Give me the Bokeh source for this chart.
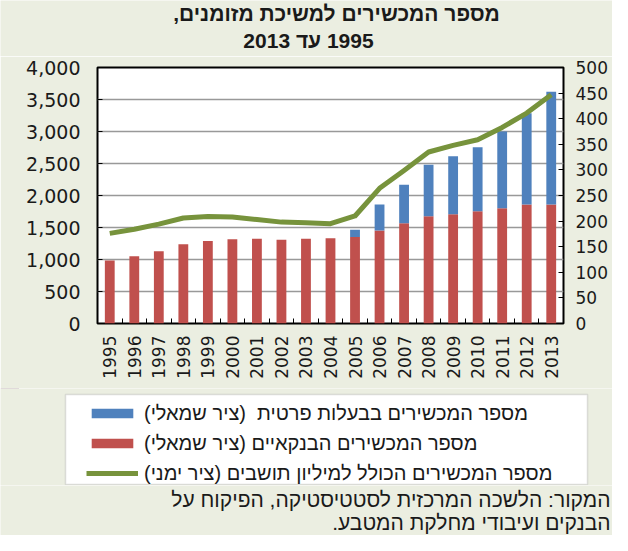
from bokeh.plotting import figure
from bokeh.layouts import column, row
from bokeh.models import (Label, Legend, LegendItem, Range1d, LinearAxis, FixedTicker, BoxAnnotation,
                          SingleIntervalTicker, NumeralTickFormatter, ColumnDataSource)
from bokeh.embed import file_html
from bokeh.resources import INLINE
import math

years = [1995, 1996, 1997, 1998, 1999, 2000, 2001, 2002, 2003, 2004,
         2005, 2006, 2007, 2008, 2009, 2010, 2011, 2012, 2013]
banks = [985, 1050, 1130, 1240, 1290, 1318, 1323, 1307, 1323, 1333,
         1350, 1453, 1568, 1677, 1708, 1755, 1802, 1859, 1859]
private = [0, 0, 0, 0, 0, 0, 0, 0, 0, 0,
           114, 406, 599, 802, 907, 1000, 1198, 1427, 1761]
per_million = [176, 184, 194, 206, 209, 208, 203, 198, 197, 195,
               210, 264, 299, 335, 348, 359, 383, 411, 447]

RLM = "\u200f"
title_lines = ["מספר המכשירים למשיכת מזומנים,", "1995 עד 2013"]
legend_labels = ["מספר המכשירים בבעלות פרטית  (ציר שמאלי)",
                 "מספר המכשירים הבנקאיים (ציר שמאלי)",
                 "מספר המכשירים הכולל למיליון תושבים (ציר ימני)"]
source_lines = ["המקור: הלשכה המרכזית לסטטיסטיקה, הפיקוח על",
                "הבנקים ועיבודי מחלקת המטבע."]

BG = "#ebeee1"
RED = "#c0504d"
BLUE = "#4f81bd"
GREEN = "#77933c"
TICK_FONT = "DejaVu Sans"
HEB_FONT = "Liberation Sans"
W = 612


def rtl(s):
    return RLM + s + RLM


def blank_fig(h):
    f = figure(width=W, height=h, output_backend="svg", toolbar_location=None,
               x_range=Range1d(0, W), y_range=Range1d(0, h),
               min_border=0, min_border_left=0, min_border_right=0,
               min_border_top=0, min_border_bottom=0,
               background_fill_color=BG, border_fill_color=BG,
               outline_line_color=None)
    f.axis.visible = False
    f.grid.visible = False
    return f


idx = list(range(len(years)))
tops = [b + q for b, q in zip(banks, private)]
src = ColumnDataSource(dict(x=idx, banks=banks, tops=tops, line=per_million))

# ---------- title ----------
head = blank_fig(56)
for t, x, y in zip(title_lines, [336, 308], [43, 16]):
    head.add_layout(Label(x=x, y=y, text=rtl(t),
                          text_align="center", text_baseline="middle",
                          text_font=HEB_FONT, text_font_style="bold",
                          text_font_size="21px", text_color="#1a1a1a"))

# ---------- main chart ----------
p = figure(width=W, height=332, output_backend="svg", toolbar_location=None,
           x_range=Range1d(-0.5, len(years) - 0.5), y_range=Range1d(0, 4000),
           min_border_left=97, min_border_right=49, min_border_top=11, min_border_bottom=65,
           background_fill_color="white", border_fill_color=BG,
           outline_line_color="black", outline_line_width=2)
p.extra_y_ranges = {"r": Range1d(0, 500)}

p.xgrid.visible = False
p.ygrid.grid_line_color = "#999999"
p.ygrid.grid_line_width = 1.5

ya = p.yaxis[0]
ya.ticker = SingleIntervalTicker(interval=500, num_minor_ticks=0)
ya.formatter = NumeralTickFormatter(format="0,0")
ya.major_tick_in = 5
ya.major_tick_out = 0
ya.minor_tick_in = 0
ya.minor_tick_out = 0
ya.axis_line_color = None
ya.major_tick_line_color = "black"
ya.major_label_text_font = TICK_FONT
ya.major_label_text_font_size = "19px"
ya.major_label_text_color = "#1a1a1a"
ya.major_label_standoff = 17

ra = LinearAxis(y_range_name="r", ticker=SingleIntervalTicker(interval=50, num_minor_ticks=0))
ra.major_tick_in = 5
ra.major_tick_out = 0
ra.minor_tick_in = 0
ra.minor_tick_out = 0
ra.axis_line_color = None
ra.major_label_text_font = TICK_FONT
ra.major_label_text_font_size = "17px"
ra.major_label_text_color = "#1a1a1a"
ra.major_label_standoff = 12
p.add_layout(ra, "right")

xa = p.xaxis[0]
xa.ticker = FixedTicker(ticks=idx, minor_ticks=[i - 0.5 for i in idx] + [len(years) - 0.5])
xa.major_label_overrides = {i: str(y) for i, y in zip(idx, years)}
xa.major_label_orientation = math.pi / 2
xa.major_tick_in = 0
xa.major_tick_out = 0
xa.minor_tick_in = 5
xa.minor_tick_out = 0
xa.minor_tick_line_color = "black"
xa.axis_line_color = None
xa.major_label_text_font = TICK_FONT
xa.major_label_text_font_size = "17px"
xa.major_label_text_color = "#1a1a1a"
xa.major_label_standoff = 12

p.vbar(x="x", bottom=0, top="banks", width=0.4, source=src, fill_color=RED, line_color=None)
p.vbar(x="x", bottom="banks", top="tops", width=0.4, source=src, fill_color=BLUE, line_color=None)
p.line(x="x", y="line", source=src, y_range_name="r",
       line_color=GREEN, line_width=5, line_join="round")

# ---------- legend ----------
leg = blank_fig(97)
leg.add_layout(BoxAnnotation(left=65, right=587, bottom=1, top=91,
                             fill_color="white", fill_alpha=1,
                             line_color="#9a9a9a", line_width=1.5))
# legend swatch renderers (their marks fall outside this strip's visible range)
lb = leg.vbar(x="x", bottom="banks", top="tops", width=0.4, source=src, fill_color=BLUE, line_color=None)
lr = leg.vbar(x="x", bottom="banks", top="tops", width=0.4, source=src, fill_color=RED, line_color=None)
lg = leg.line(x="x", y="line", source=src, line_color=GREEN, line_width=5)
legend = Legend(items=[LegendItem(label=rtl(legend_labels[0]), renderers=[lb]),
                       LegendItem(label=rtl(legend_labels[1]), renderers=[lr]),
                       LegendItem(label=rtl(legend_labels[2]), renderers=[lg])],
                location=(86, -1), glyph_width=52, glyph_height=12, label_standoff=6,
                label_height=26, label_width=420, spacing=4, padding=8, margin=0,
                border_line_color=None, background_fill_alpha=0,
                label_text_font=HEB_FONT, label_text_font_size="20px",
                label_text_color="#1a1a1a")
leg.add_layout(legend)

# ---------- source ----------
foot = blank_fig(50)
for t, y in zip(source_lines, [36, 13]):
    foot.add_layout(Label(x=610, y=y, text=rtl(t),
                          text_align="right", text_baseline="middle",
                          text_font=HEB_FONT, text_font_size="21px", text_color="#1a1a1a"))

layout = column(row(head), p, row(leg), row(foot), spacing=0)
open("out.html", "w").write(file_html(layout, INLINE))
